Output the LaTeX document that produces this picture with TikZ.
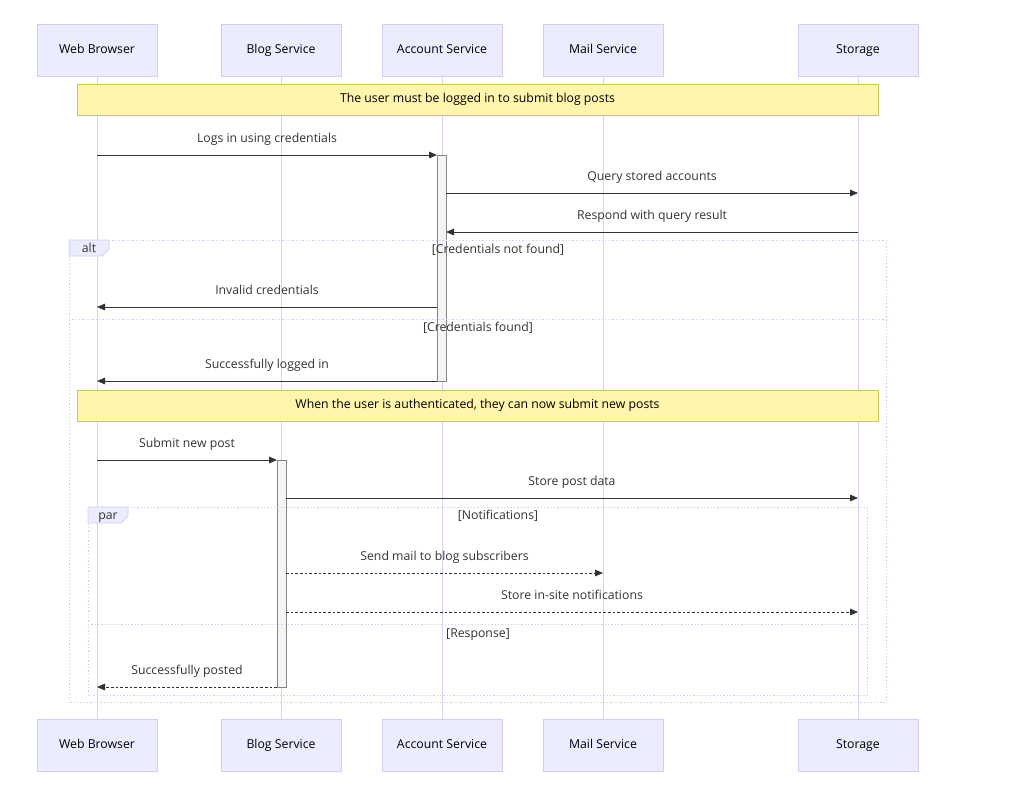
\documentclass[tikz,border=0pt]{standalone}
\usepackage{fontspec}
\setmainfont{Open Sans}
\usetikzlibrary{arrows.meta}
\definecolor{actfill}{HTML}{ECECFF}
\definecolor{actline}{HTML}{D4CCF2}
\definecolor{lifeline}{HTML}{D9D2F5}
\definecolor{notefill}{HTML}{FFF5AD}
\definecolor{noteline}{HTML}{C8C85A}
\definecolor{msg}{HTML}{333333}
\definecolor{actv}{HTML}{F4F4F4}
\begin{document}
\begin{tikzpicture}[x=0.75pt,y=-0.75pt,
  txt/.style={font=\fontsize{9.2}{11}\selectfont,text height=7pt,text depth=2pt},
  actor/.style={txt,draw=actline,fill=actfill,minimum width=90pt,minimum height=39pt,inner sep=0pt},
  note/.style={txt,draw=noteline,fill=notefill,minimum width=600.75pt,minimum height=23.25pt,inner sep=0pt},
  life/.style={draw=lifeline,line width=0.6pt},
  m/.style={draw=msg,line width=0.6pt,-{Triangle[length=6pt,width=5pt]}},
  md/.style={m,dash pattern=on 2pt off 1.5pt},
  lbl/.style={txt,text=msg,inner sep=0pt},
  frame/.style={draw=actline,line width=0.6pt,dash pattern=on 1pt off 1.5pt},
  act/.style={draw=msg!60,fill=actv,line width=0.5pt}]
\useasboundingbox (0,0) rectangle (1013,807);
\foreach \n/\x/\t in {wb/97/Web Browser,bs/281/Blog Service,as/442/Account Service,ms/603/Mail Service,st/858/Storage}{
  \draw[life] (\x,76) -- (\x,719);
  \node[actor] (\n t) at (\x,50) {\t};
  \node[actor] (\n b) at (\x,745) {\t};
}
% activations
\draw[act] (437,155) rectangle (446,381);
\draw[act] (277,460) rectangle (286,687);
% notes
\node[note] (n1) at (477.5,99.5) {The user must be logged in to submit blog posts};
\node[note] (n2) at (477.5,405.5) {When the user is authenticated, they can now submit new posts};
% coordinates
\foreach \n/\x/\y in {a1/97/155,a2/437/155,b1/446/193,b2/858/193,c1/858/232,c2/446/232,
  d1/437/307,d2/97/307,e1/437/381,e2/97/381,f1/97/460,f2/277/460,g1/286/498,g2/858/498,
  h1/286/573,h2/603/573,i1/286/612,i2/858/612,j1/277/687,j2/97/687}
  \coordinate (\n) at (\x,\y);
\draw[m] (a1) -- (a2) node[lbl,midway,above=7pt] {Logs in using credentials};
\draw[m] (b1) -- (b2) node[lbl,midway,above=7pt] {Query stored accounts};
\draw[m] (c1) -- (c2) node[lbl,midway,above=7pt] {Respond with query result};
\draw[m] (d1) -- (d2) node[lbl,midway,above=7pt] {Invalid credentials};
\draw[m] (e1) -- (e2) node[lbl,midway,above=7pt] {Successfully logged in};
\draw[m] (f1) -- (f2) node[lbl,midway,above=7pt] {Submit new post};
\draw[m] (g1) -- (g2) node[lbl,midway,above=7pt] {Store post data};
\draw[md] (h1) -- (h2) node[lbl,midway,above=7pt] {Send mail to blog subscribers};
\draw[md] (i1) -- (i2) node[lbl,midway,above=7pt] {Store in-site notifications};
\draw[md] (j1) -- (j2) node[lbl,midway,above=7pt] {Successfully posted};
% alt frame
\draw[frame] (69,240) rectangle (886,702);
\draw[frame] (69,319) -- (886,319);
\draw[draw=actline,fill=actfill,line width=0.6pt] (69,240) -- (109,240) -- (109,249) -- (102,256) -- (69,256) -- cycle;
\node[lbl] (alt) at (89,249) {alt};
\node[lbl] (g1t) at (498,250) {[Credentials not found]};
\node[lbl] (g2t) at (478,328) {[Credentials found]};
% par frame
\draw[frame] (88,507) rectangle (867,695);
\draw[frame] (88,624) -- (867,624);
\draw[draw=actline,fill=actfill,line width=0.6pt] (88,507) -- (128,507) -- (128,516) -- (121,523) -- (88,523) -- cycle;
\node[lbl] (par) at (108,516) {par};
\node[lbl] (p1t) at (498,516) {[Notifications]};
\node[lbl] (p2t) at (478,634) {[Response]};
\end{tikzpicture}
\end{document}
